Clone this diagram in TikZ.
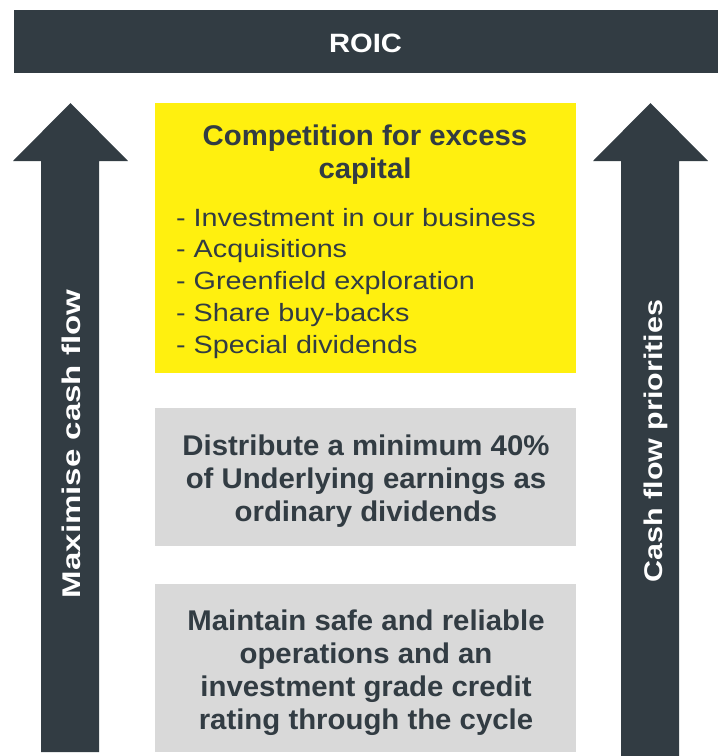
\documentclass[tikz,border=0pt]{standalone}
\usepackage{fontspec}
\setmainfont{Liberation Sans}
\newfontfamily\boxbold[FakeStretch=1.03]{Liberation Sans Bold}
\newfontfamily\boxreg[FakeStretch=1.15]{Liberation Sans}
\newfontfamily\arrbold{Liberation Sans Bold}
\definecolor{darkc}{RGB}{50,60,67}
\definecolor{yell}{RGB}{255,240,15}
\definecolor{grayc}{RGB}{217,217,217}
\begin{document}
\begin{tikzpicture}[x=1pt,y=-1pt,
  boldtxt/.style={font=\boxbold\fontsize{28.5}{33}\selectfont,text=darkc,align=center,inner sep=0pt,anchor=north},
  regtxt/.style={font=\boxreg\fontsize{25}{31.75}\selectfont,text=darkc,align=left,inner sep=0pt,anchor=north west},
  arrowtxt/.style={font=\arrbold\fontsize{25.6}{30}\selectfont,text=white,rotate=90,inner sep=0pt,anchor=base}]
\useasboundingbox (0,0) rectangle (718,756);
% ROIC bar
\fill[darkc] (14,10) rectangle (718,72.7);
\node[font=\arrbold\fontsize{26.5}{30}\selectfont,text=white,inner sep=0pt,anchor=base] (roic) at (365.5,52) {\scalebox{1.1}[1]{ROIC}};
% arrows
\fill[darkc] (41,752) -- (41,161) -- (13,161) -- (70.5,103) -- (128,161) -- (99,161) -- (99,752) -- cycle;
\fill[darkc] (621,756) -- (621,161) -- (593,161) -- (650.5,103) -- (708,161) -- (679,161) -- (679,756) -- cycle;
\node[arrowtxt] (maxcf) at (80,444) {\scalebox{1.29}[1]{Maximise cash flow}};
\node[arrowtxt] (cfp) at (662,441) {\scalebox{1.19}[1]{Cash flow priorities}};
% panels
\fill[yell] (155,103) rectangle (576,373);
\fill[grayc] (155,408) rectangle (576,546);
\fill[grayc] (155,584) rectangle (576,752);
\node[boldtxt] (comp) at (365,123) {\rule{0pt}{22pt}Competition for excess\\capital};
\node[regtxt] (list) at (176,206) {\rule{0pt}{20pt}- Investment in our business\\- Acquisitions\\- Greenfield exploration\\- Share buy-backs\\- Special dividends};
\node[boldtxt] (dist) at (366,433) {\rule{0pt}{22pt}Distribute a minimum 40\%\\of Underlying earnings as\\ordinary dividends};
\node[boldtxt] (maint) at (366,608) {\rule{0pt}{22pt}Maintain safe and reliable\\operations and an\\investment grade credit\\rating through the cycle};
\end{tikzpicture}
\end{document}
